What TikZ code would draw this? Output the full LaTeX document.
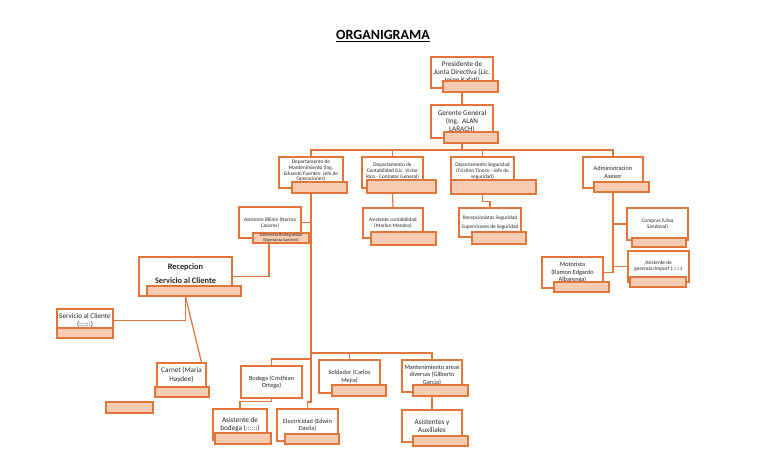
\documentclass[tikz,border=0pt]{standalone}
\usepackage{fontspec}
\setmainfont{Carlito}
\definecolor{orgline}{RGB}{226,118,58}
\definecolor{orgfill}{RGB}{248,204,178}

\begin{document}
\begin{tikzpicture}[x=1pt,y=-1pt,
  unitbox/.style={draw=orgline,fill=white,line width=1.2pt,inner sep=0pt,
                  align=center,text=black!85},
  bar/.style={draw=orgline,fill=orgfill,line width=1.2pt,inner sep=0pt,
              align=center,text=black!85},
  sz/.style 2 args={minimum width=#1pt,minimum height=#2pt},
  link/.style={draw=orgline,line width=1.2pt},
  fxs/.style={font=\fontsize{4.3}{5}\selectfont},
  fs/.style={font=\fontsize{5.3}{6}\selectfont},
  fm/.style={font=\fontsize{6.3}{7.5}\selectfont},
  fl/.style={font=\fontsize{7.2}{8.3}\selectfont}
]
\useasboundingbox (0,0) rectangle (768,466);
% Title
\node[font=\fontsize{14}{16}\selectfont\bfseries] (title) at (383,36)
    {\underline{ORGANIGRAMA}};
% Top of the chart
\node[unitbox,fl,sz={62}{31}] (pres) at (462,72.5)
    {Presidente de\\Junta Directiva (Lic.\\Jorge Kafati)};
\node[bar,sz={55}{11}] (presbar) at (470.5,86.5) {};
\node[unitbox,fl,sz={62}{33}] (ger) at (462,121.5)
    {Gerente General\\(Ing.\ \ ALAN\\LARACH)};
\node[bar,sz={54}{11}] (gerbar) at (471,137.5) {};
% Departments
\node[unitbox,font=\fontsize{5.3}{5.7}\selectfont,text depth=4pt,sz={64}{31}] (mant) at (311,172.5)
    {Departamento de\\Mantenimiento (Ing.\\Eduardo Fuentes- Jefe de\\Operaciones)};
\node[bar,sz={55}{11}] (mantbar) at (319.5,187.5) {};
\node[unitbox,fs,text depth=4pt,sz={61}{31}] (cont) at (392.5,172.5)
    {Departamento de\\Contabilidad (Lic. Victor\\Rico - Contador General)};
\node[bar,sz={69}{13}] (contbar) at (401.5,186.5) {};
\node[unitbox,fs,text depth=4pt,sz={63}{31}] (seg) at (482.5,172.5)
    {Departamento Seguridad\\(Cristino Tinoco - Jefe de\\seguridad)};
\node[bar,sz={85}{14}] (segbar) at (493.5,187) {};
\node[unitbox,fm,sz={60}{31}] (admin) at (613,172.5)
    {Administracion\\Asesor};
\node[bar,sz={55}{10}] (adminbar) at (621.5,187) {};
% Second level
\node[unitbox,fs,sz={62}{31}] (bil) at (270,222.5)
    {Asistente Bilinin (Norma\\Caceres)};
\node[bar,fxs,sz={56}{10}] (enf) at (281,238)
    {Enfermera Bioseguridad\\(Esperanza Sanchez)};
\node[unitbox,fs,sz={60}{30}] (ascont) at (393,223)
    {Asistente contabilidad\\(Marlon Mendez)};
\node[bar,sz={65}{13}] (ascontbar) at (403.5,238.5) {};
\node[unitbox,fs,sz={62}{29}] (recseg) at (490,222.5)
    {Recepcionistas Seguridad\\[2.5pt]Supervisores de Seguridad};
\node[bar,sz={54}{12}] (recsegbar) at (499,238) {};
\node[unitbox,fs,sz={61}{32}] (compras) at (657.5,224)
    {Compras (Uloa\\Sandoval)};
\node[bar,sz={54}{9}] (comprasbar) at (659,242.5) {};
\node[unitbox,fs,sz={61}{31}] (asger) at (658.5,266.5)
    {Asistente de\\gerencia/Import (::::::)};
\node[bar,sz={56}{10}] (asgerbar) at (658,282) {};
\node[unitbox,fm,sz={61}{31}] (moto) at (572.5,272.5)
    {Motorista\\(Ramon Edgardo\\Albarenga)};
\node[bar,sz={55}{10}] (motobar) at (581.5,287) {};
% Reception
\node[unitbox,font=\fontsize{8.3}{14}\selectfont\bfseries,text depth=6pt,sz={93}{39}] (recep) at (185.5,276.5)
    {Recepcion\\Servicio al Cliente};
\node[bar,sz={94}{10}] (recepbar) at (194,291) {};
\node[unitbox,fl,sz={56}{23}] (serv) at (85,320.5)
    {Servicio al Cliente\\(::::::)};
\node[bar,sz={56}{10}] (servbar) at (85,333) {};
\node[unitbox,fl,sz={49}{24}] (carnet) at (181.5,375)
    {Carnet (Maria\\Haydee)};
\node[bar,sz={54}{10}] (carnetbar) at (182,392) {};
\node[bar,sz={47}{11}] (lonebar) at (129.5,407.5) {};
% Maintenance staff
\node[unitbox,fm,sz={61}{32}] (bod) at (271.5,382)
    {Bodega (Cristhian\\Ortega)};
\node[unitbox,fl,sz={54}{31}] (asbod) at (240,424.5)
    {Asistente de\\bodega (::::::)};
\node[bar,sz={56}{11}] (asbodbar) at (243,438.5) {};
\node[unitbox,fm,sz={61}{32}] (elec) at (307.5,425)
    {Electricidad (Edwin\\Davila)};
\node[bar,sz={54}{10}] (elecbar) at (312,439) {};
\node[unitbox,fm,sz={61}{33}] (sold) at (349.5,376.5)
    {Soldador (Carlos\\Mejia)};
\node[bar,sz={54}{11}] (soldbar) at (359,390.5) {};
\node[unitbox,fm,text depth=3pt,sz={60}{32}] (mareas) at (432,376)
    {Mantenimiento areas\\diversas (Gilberto\\Garcia)};
\node[bar,sz={55}{11}] (mareasbar) at (440.5,390.5) {};
\node[unitbox,fl,sz={60}{32}] (asaux) at (432,426)
    {Asistentes y\\Auxiliales};
\node[bar,sz={55}{10}] (asauxbar) at (440.5,441) {};
% Connectors
\coordinate (topbus) at (462,150);
\coordinate (lowbus) at (311,353);
\draw[link] (pres.south |- presbar.south) -- (ger.north);
\draw[link] (ger.south |- gerbar.south) -- (topbus);
\draw[link] (mant.north) |- (topbus) -| (admin.north);
\draw[link] (cont.north) -- (cont.north |- topbus);
\draw[link] (seg.north) -- (seg.north |- topbus);
\draw[link] (mant.south |- mantbar.south) -- (mant.south |- 0,402) -| (elec.north);
\draw[link] (bil.east) -- (bil.east -| mant.south);
\draw[link] (recep.east) -| ([xshift=-12pt]enf.south);
\draw[link] (recep.south |- recepbar.south) |- (serv.east);
\draw[link] (recep.south |- recepbar.south) -- ([xshift=20pt]carnet.north);
\draw[link] (lowbus) -| (mareas.north);
\draw[link] (sold.north) -- (sold.north |- lowbus);
\draw[link] (bod.north) |- (mant.south |- 0,359);
\draw[link] (bod.south) -- ++(0,3) -| (asbod.north);
\draw[link] (mareas.south |- mareasbar.south) -- (asaux.north);
\draw[link] (cont.south |- contbar.south) -- (ascont.north);
\draw[link] (seg.south |- segbar.south) -- ++(0,7) -| (recseg.north);
\draw[link] (admin.south |- adminbar.south) |- (moto.east);
\draw[link] (compras.west) -- (compras.west -| admin.south);
\draw[link] (asger.west) -- (asger.west -| admin.south);
\end{tikzpicture}
\end{document}
